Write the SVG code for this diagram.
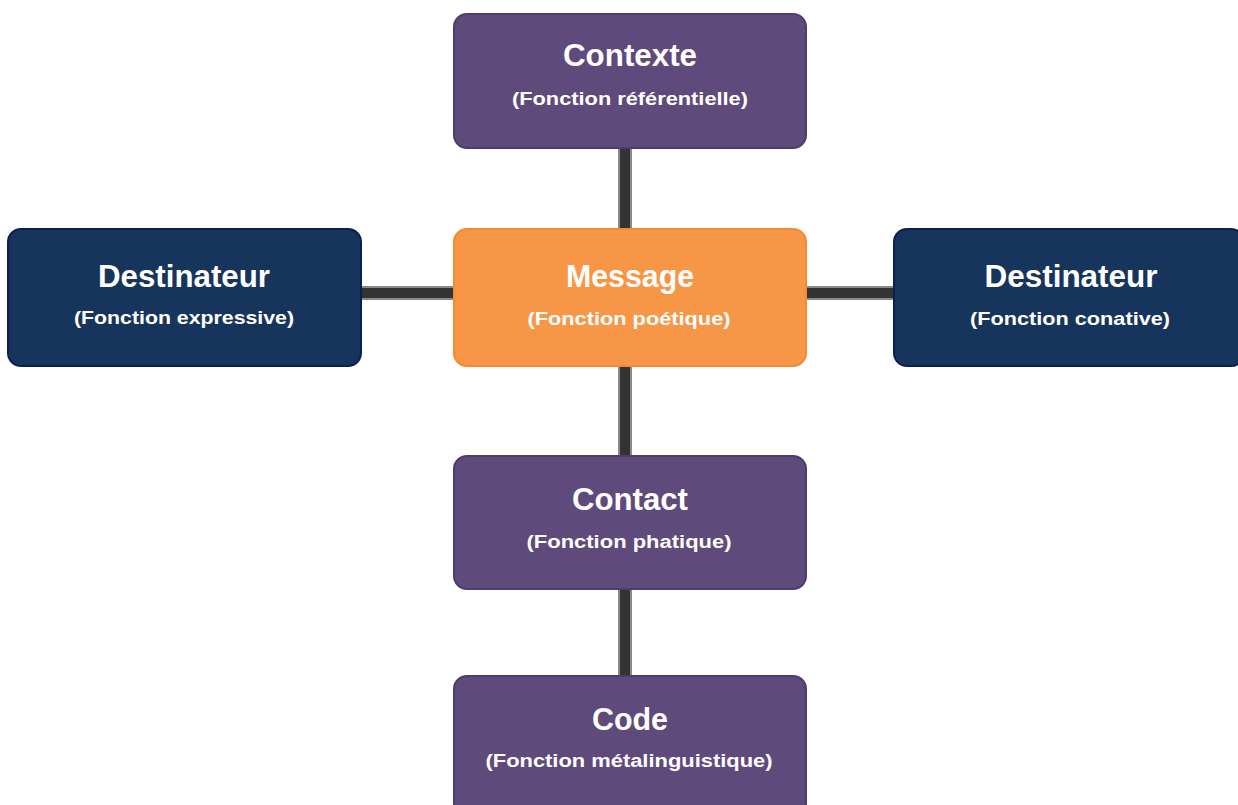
<svg xmlns="http://www.w3.org/2000/svg" width="1238" height="805" viewBox="0 0 1238 805">
<style>
.bg{fill:#ffffff}
.purple{fill:#5f4a7c;stroke:#4f3b6d;stroke-width:2}
.navy{fill:#17355c;stroke:#0a2150;stroke-width:2}
.orange{fill:#f79646;stroke:#f58a30;stroke-width:2}
.t{font-family:"Liberation Sans",Arial,sans-serif;font-weight:bold;fill:#ffffff;text-anchor:middle}
.title{font-size:32px}
.sub{font-size:18px}
.edge{stroke:#8a8a8a;stroke-width:14;fill:none}
.core{stroke:#333333;stroke-width:10;fill:none}
</style>
<rect class="bg" x="0" y="0" width="1238" height="805"/>
<g id="connectors">
<line class="edge" x1="625" y1="148" x2="625" y2="229"/>
<line class="edge" x1="625" y1="366" x2="625" y2="456"/>
<line class="edge" x1="625" y1="589" x2="625" y2="676"/>
<line class="edge" x1="361" y1="293" x2="454" y2="293"/>
<line class="edge" x1="806" y1="293" x2="894" y2="293"/>
<line class="core" x1="625" y1="148" x2="625" y2="229"/>
<line class="core" x1="625" y1="366" x2="625" y2="456"/>
<line class="core" x1="625" y1="589" x2="625" y2="676"/>
<line class="core" x1="361" y1="293" x2="454" y2="293"/>
<line class="core" x1="806" y1="293" x2="894" y2="293"/>
</g>
<g id="contexte">
<rect class="purple" x="454" y="14" width="352" height="134" rx="13"/>
<text class="t title" x="630" y="66" textLength="134" lengthAdjust="spacingAndGlyphs">Contexte</text>
<text class="t sub" x="630" y="105" textLength="236" lengthAdjust="spacingAndGlyphs">(Fonction référentielle)</text>
</g>
<g id="destinateur-gauche">
<rect class="navy" x="8" y="229" width="353" height="137" rx="13"/>
<text class="t title" x="184" y="287" textLength="172" lengthAdjust="spacingAndGlyphs">Destinateur</text>
<text class="t sub" x="184" y="324" textLength="220" lengthAdjust="spacingAndGlyphs">(Fonction expressive)</text>
</g>
<g id="message">
<rect class="orange" x="454" y="229" width="352" height="137" rx="13"/>
<text class="t title" x="630" y="287" textLength="128" lengthAdjust="spacingAndGlyphs">Message</text>
<text class="t sub" x="629" y="325" textLength="203" lengthAdjust="spacingAndGlyphs">(Fonction poétique)</text>
</g>
<g id="destinateur-droite">
<rect class="navy" x="894" y="229" width="350" height="137" rx="13"/>
<text class="t title" x="1071" y="287" textLength="173" lengthAdjust="spacingAndGlyphs">Destinateur</text>
<text class="t sub" x="1070" y="325" textLength="200" lengthAdjust="spacingAndGlyphs">(Fonction conative)</text>
</g>
<g id="contact">
<rect class="purple" x="454" y="456" width="352" height="133" rx="13"/>
<text class="t title" x="630" y="510" textLength="116" lengthAdjust="spacingAndGlyphs">Contact</text>
<text class="t sub" x="629" y="548" textLength="205" lengthAdjust="spacingAndGlyphs">(Fonction phatique)</text>
</g>
<g id="code">
<rect class="purple" x="454" y="676" width="352" height="140" rx="13"/>
<text class="t title" x="630" y="730" textLength="76" lengthAdjust="spacingAndGlyphs">Code</text>
<text class="t sub" x="629" y="767" textLength="287" lengthAdjust="spacingAndGlyphs">(Fonction métalinguistique)</text>
</g>
</svg>
